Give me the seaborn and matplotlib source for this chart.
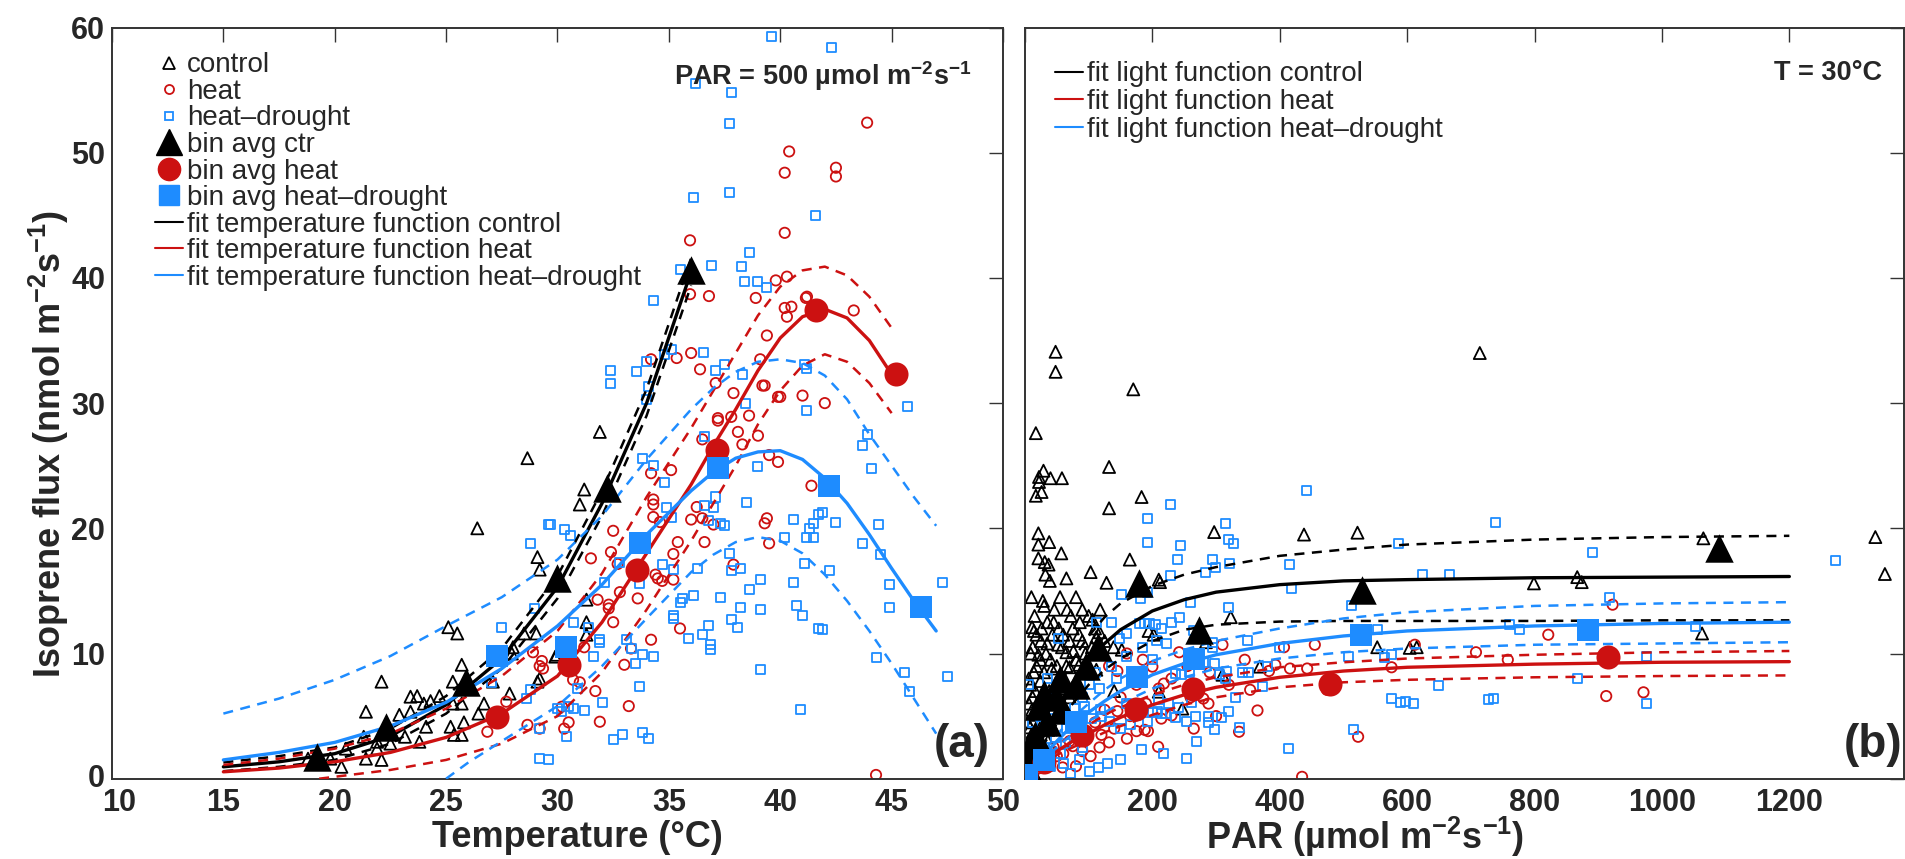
import matplotlib
matplotlib.use("Agg")
import matplotlib.pyplot as plt
import matplotlib.transforms as mtransforms
import seaborn as sns
from matplotlib.lines import Line2D

# ---------------- data: (a) temperature response, PAR = 500 ----------------
ctrl_T = [18.8, 19.4, 19.8, 20.3, 20.5, 21.3, 21.4, 21.4, 21.9, 21.9,
          22.1, 22.1, 22.5, 22.6, 22.9, 23.15, 23.4, 23.4, 23.7, 23.8,
          24.0, 24.1, 24.3, 24.7, 25.1, 25.2, 25.3, 25.3, 25.35, 25.5,
          25.7, 25.7, 25.7, 25.8, 26.4, 26.45, 26.7, 27.1, 27.85, 27.95,
          28.0, 28.5, 28.65, 29.05, 29.1, 29.1, 29.2, 29.2, 29.9, 29.97,
          31.0, 31.2, 31.3, 31.3, 31.3, 31.9]
ctrl_v = [1.6, 1.5, 1.6, 0.95, 2.4, 3.35, 5.35, 1.6, 2.95, 2.4,
          7.75, 1.5, 2.8, 3.6, 5.1, 3.35, 6.55, 5.35, 6.6, 2.95,
          6.0, 4.15, 6.2, 6.6, 12.1, 4.15, 7.75, 6.0, 3.5, 11.6,
          9.1, 3.5, 6.0, 4.5, 20.0, 5.2, 6.0, 7.75, 6.8, 10.0,
          10.5, 11.6, 25.6, 11.6, 7.75, 17.7, 16.7, 8.0, 9.75, 9.9,
          21.9, 23.1, 14.3, 12.5, 11.5, 27.7]

heat_T = [26.85, 27.7, 28.65, 28.9, 29.2, 29.3, 29.35, 29.2, 30.2, 30.3,
          30.5, 30.7, 31.0, 31.2, 31.5, 31.7, 31.8, 31.9, 32.3, 32.3,
          32.4, 32.5, 32.5, 32.7, 32.8, 33.0, 33.2, 33.3, 33.6, 34.2,
          34.2, 34.2, 34.3, 34.3, 34.3, 34.4, 34.5, 34.6, 34.7, 35.1,
          35.2, 35.2, 35.35, 35.4, 35.5, 35.95, 35.95, 36.0, 36.0, 36.25,
          36.4, 36.5, 36.5, 36.6, 36.8, 37.0, 37.1, 37.2, 37.2, 37.8,
          37.9, 37.9, 38.1, 38.3, 38.6, 38.9, 39.0, 39.1, 39.2, 39.3,
          39.3, 39.4, 39.4, 39.5, 39.5, 39.8, 39.9, 39.9, 40.0, 40.2,
          40.2, 40.2, 40.3, 40.4, 40.5, 40.3, 41.0, 41.15, 41.2, 41.4,
          42.0, 42.5, 42.5, 43.3, 43.9, 44.3]
heat_v = [3.75, 6.15, 4.3, 10.1, 9.0, 9.4, 8.8, 4.0, 5.75, 4.0,
          4.5, 7.9, 7.7, 10.5, 17.6, 7.0, 14.3, 4.55, 13.9, 13.6,
          18.1, 19.8, 12.5, 17.15, 14.9, 9.1, 5.8, 10.4, 14.4, 11.1,
          24.4, 33.5, 22.3, 21.9, 20.9, 16.3, 16.0, 20.5, 15.8, 24.65,
          17.95, 15.9, 33.6, 18.9, 12.0, 43.0, 38.7, 20.7, 34.0, 21.7,
          32.7, 20.8, 27.1, 18.9, 38.55, 20.3, 31.6, 28.6, 28.8, 28.9,
          17.1, 30.8, 27.7, 26.7, 29.0, 38.4, 27.4, 33.5, 31.4, 31.4,
          20.4, 35.4, 20.8, 25.85, 18.8, 39.8, 25.3, 30.5, 30.5, 43.6,
          48.4, 37.6, 40.1, 50.1, 37.7, 36.9, 30.6, 38.4, 38.5, 23.4,
          30.0, 48.8, 48.1, 37.4, 52.4, 0.3]

hd_T = [27.05, 27.5, 28.6, 28.8, 28.8, 28.95, 29.2, 29.2, 29.6, 29.6,
        29.7, 30.0, 30.2, 30.3, 30.4, 30.5, 30.6, 30.7, 30.7, 30.9,
        31.2, 31.4, 31.6, 31.9, 31.9, 32.0, 32.1, 32.4, 32.4, 32.5,
        32.8, 32.9, 33.1, 33.3, 33.5, 33.55, 33.7, 33.7, 33.8, 33.8,
        33.8, 34.0, 34.0, 34.1, 34.1, 34.3, 34.3, 34.3, 34.7, 34.8,
        34.8, 34.9, 35.1, 35.1, 35.2, 35.2, 35.2, 35.5, 35.5, 35.6,
        35.9, 36.1, 36.1, 36.2, 36.3, 36.5, 36.55, 36.6, 36.6, 36.8,
        36.8, 36.85, 36.85, 36.9, 37.0, 37.1, 37.1, 37.3, 37.3, 37.5,
        37.5, 37.7, 37.7, 37.7, 37.8, 37.8, 37.8, 38.1, 38.2, 38.2,
        38.25, 38.3, 38.4, 38.45, 38.5, 38.6, 38.6, 39.0, 39.0, 39.1,
        39.1, 39.1, 39.4, 39.6, 40.2, 40.6, 40.6, 40.75, 40.9, 41.0,
        41.1, 41.1, 41.2, 41.2, 41.2, 41.3, 41.5, 41.5, 41.6, 41.7,
        41.7, 41.9, 41.9, 42.2, 42.3, 42.5, 43.7, 43.7, 43.9, 44.1,
        44.4, 44.5, 44.9, 44.9, 44.3, 45.6, 45.7, 45.8, 47.3, 47.5]
hd_v = [7.7, 12.1, 6.4, 7.1, 18.8, 13.6, 4.0, 1.6, 1.5, 20.3,
        20.3, 5.6, 5.4, 19.9, 3.4, 5.8, 19.4, 12.5, 5.6, 7.2,
        5.45, 12.1, 9.75, 11.1, 10.9, 6.1, 15.7, 32.6, 31.6, 3.1,
        17.3, 3.55, 11.1, 10.4, 9.2, 32.5, 15.6, 7.35, 25.6, 9.9,
        3.7, 33.3, 30.25, 31.3, 3.2, 38.2, 25.0, 9.8, 17.1, 33.9,
        23.65, 21.7, 34.3, 20.9, 16.7, 13.0, 12.8, 40.7, 14.1, 14.4,
        11.2, 46.4, 14.6, 55.5, 16.8, 11.5, 34.05, 27.3, 21.8, 20.6,
        12.2, 10.7, 10.3, 41.0, 21.7, 22.5, 32.6, 20.4, 14.5, 20.2,
        33.1, 52.3, 46.8, 18.0, 54.8, 16.6, 12.7, 12.1, 16.8, 13.7,
        40.95, 32.3, 39.7, 30.0, 22.1, 42.0, 15.1, 39.7, 24.9, 15.9,
        13.5, 8.7, 39.25, 59.3, 19.3, 20.7, 15.65, 13.8, 5.5, 13.0,
        33.1, 17.2, 32.8, 29.4, 19.25, 20.0, 20.4, 19.3, 45.0, 21.1,
        12.0, 21.3, 11.9, 16.6, 58.4, 20.5, 26.6, 18.8, 27.5, 24.8,
        20.3, 17.9, 15.5, 13.65, 9.7, 8.5, 29.7, 6.95, 15.7, 8.2]

bin_ctr_T = [19.2, 22.3, 25.9, 30.0, 32.2, 36.0]
bin_ctr_v = [1.75, 4.15, 7.75, 16.0, 23.2, 40.6]
bin_heat_T = [27.3, 30.5, 33.55, 37.15, 41.6, 45.2]
bin_heat_v = [4.9, 9.1, 16.7, 26.25, 37.4, 32.3]
bin_hd_T = [27.3, 30.4, 33.7, 37.2, 42.2, 46.3]
bin_hd_v = [9.8, 10.5, 18.8, 24.8, 23.4, 13.7]

# fitted temperature functions
fitT_ctrl = [15, 17.5, 20, 22.5, 25, 27.5, 30, 32, 34, 36]
fit_ctrl = [0.95, 1.35, 2.0, 3.4, 5.9, 9.6, 15.3, 22.0, 30.0, 40.5]
fit_ctrl_hi = [1.3, 1.8, 2.5, 4.0, 6.6, 10.4, 16.2, 23.0, 31.1, 41.6]
fit_ctrl_lo = [0.6, 0.95, 1.5, 2.8, 5.2, 8.8, 14.4, 21.0, 29.0, 39.4]

fitT_heat = [15, 17.5, 20, 22.5, 25, 27.5, 30, 32, 34, 36, 37, 38, 39, 40, 41,
             42, 43, 44, 45]
fit_heat = [0.55, 0.85, 1.35, 2.1, 3.3, 5.2, 8.2, 12.5, 18.0, 23.5, 26.6, 29.5,
            32.6, 35.2, 36.9, 37.5, 36.8, 35.0, 32.3]
fit_heat_hi = [1.1, 1.6, 2.4, 3.6, 5.6, 8.2, 11.8, 16.4, 22.5, 28.0, 31.0, 34.0,
               37.0, 39.3, 40.6, 40.9, 40.2, 38.5, 36.0]

fitT_heat_lo = [19.3, 22.5, 25, 27.5, 30, 32, 34, 36, 37, 38, 39, 40, 41, 42,
                43, 44, 45]
fit_heat_lo = [0.0, 0.7, 1.5, 2.8, 5.0, 8.5, 13.5, 19.0, 22.0, 25.0, 28.3, 31.0,
               33.0, 33.9, 33.3, 31.6, 29.2]

fitT_hd = [15, 17.5, 20, 22.5, 25, 27.5, 30, 32, 34, 36, 37, 38, 39, 40, 41,
           42, 43, 44, 45, 46, 47]
fit_hd = [1.5, 2.1, 2.9, 4.2, 6.1, 8.8, 12.2, 15.5, 19.5, 23.0, 24.5, 25.6, 26.1,
          26.2, 25.5, 24.0, 22.0, 19.5, 16.8, 14.2, 11.8]
fit_hd_hi = [5.2, 6.4, 7.9, 9.8, 12.2, 14.5, 17.5, 21.0, 25.5, 29.5, 31.2, 32.5,
             33.3, 33.5, 33.2, 32.2, 30.3, 27.5, 25.0, 22.5, 20.2]
fitT_hd_lo = [25, 26, 27.5, 30, 32, 34, 36, 37, 38, 39, 40, 41, 42, 43, 44, 45,
              46, 47]
fit_hd_lo = [0.0, 1.3, 3.0, 5.8, 9.0, 12.8, 16.5, 17.9, 18.9, 19.3, 19.0, 18.0,
             16.3, 14.2, 11.8, 9.2, 6.4, 3.6]

# ---------------- data: (b) light response, T = 30 C ----------------
ctrl_P = [48, 48, 170, 17, 132, 29, 22, 40, 58, 22, 17, 26, 183, 132, 21, 21, 38,
          57, 297, 438, 522, 21, 31, 37, 164.5, 103, 32, 39, 128, 210, 212, 10,
          28, 30, 72, 86, 100, 106, 323, 11, 14, 52, 65, 76, 21, 194, 202, 112,
          117, 139, 152, 42, 70, 85, 100, 112, 284, 368.5, 310, 553, 615, 8, 16,
          24, 48, 57, 11, 16, 27, 42, 8, 18, 37, 247, 210, 140, 3, 8, 5, 799,
          867, 874, 1065, 1063, 604, 1335, 1350, 714, 12, 18, 25, 35, 45, 60, 55,
          65, 80, 90, 30, 50, 60, 70, 6, 14, 20, 28, 36, 45,
          4, 6, 9, 12, 15, 18, 20, 24, 26, 30, 33, 35, 38, 40, 43, 46, 50, 53,
          58, 62, 66, 70, 75, 80, 85, 90, 95, 105, 110, 118, 125, 2, 5, 10, 13,
          22, 32, 44, 55, 65]
ctrl_Pv = [34.1, 32.5, 31.1, 27.6, 24.9, 24.6, 24.1, 24.0, 24.0, 23.7, 22.6,
           22.9, 22.5, 21.6, 19.6, 18.7, 18.9, 18.0, 19.7, 19.5, 19.65, 17.6,
           17.3, 17.1, 17.5, 16.5, 16.3, 15.8, 15.65, 15.9, 15.7, 14.5, 14.2,
           13.8, 13.0, 12.5, 13.0, 12.7, 12.9, 12.1, 11.8, 10.7, 10.1, 10.2,
           9.9, 11.8, 11.5, 11.3, 11.7, 10.5, 10.3, 8.8, 8.9, 9.1, 8.8, 8.7,
           10.9, 8.95, 8.3, 10.5, 10.5, 7.5, 7.0, 7.8, 7.6, 7.2, 5.5, 5.1, 5.9,
           5.4, 4.1, 3.4, 3.9, 5.6, 6.95, 7.0, 1.5, 2.5, 3.0, 15.6, 16.1, 15.7,
           19.2, 11.6, 10.45, 19.3, 16.35, 34.0, 10.5, 9.0, 11.0, 10.8, 12.5,
           11.5, 14.5, 16.0, 14.5, 11.0, 6.5, 6.0, 5.0, 6.5, 6.0, 8.5, 2.0, 4.5,
           3.0, 4.0,
           4.5, 8.0, 10.0, 6.5, 13.0, 11.5, 5.5, 9.5, 12.0, 8.5, 10.0, 12.5, 7.0,
           9.5, 11.5, 13.5, 9.0, 12.0, 10.5, 8.0, 13.5, 11.0, 12.0, 9.5, 11.5,
           13.5, 10.0, 10.5, 12.0, 13.5, 11.0, 1.0, 2.0, 3.5, 2.5, 6.0, 4.0, 6.5,
           7.5, 9.0]

heat_P = [435, 523, 336, 365, 353.5, 474, 406.6, 455, 383, 393, 416, 443, 575.5,
          612, 310, 242, 200, 210, 218, 132, 145, 280, 288, 209, 214, 230, 188,
          193, 175, 145, 103, 80, 59, 117, 132, 96, 708, 758, 821.5, 922.5,
          912.5, 971, 20, 35, 45, 60, 70, 85, 110, 125, 150, 160, 175, 190, 10,
          28, 50, 75, 90, 120, 140, 165, 230, 255, 265, 300, 320, 345, 260, 290,
          160, 185]
heat_Pv = [0.15, 3.35, 3.75, 5.45, 7.1, 7.1, 10.5, 10.7, 8.6, 9.1, 8.8, 8.8,
           8.9, 10.7, 10.7, 10.1, 8.95, 7.2, 7.6, 9.0, 8.6, 6.4, 6.0, 2.55, 4.8,
           5.05, 3.9, 3.8, 3.8, 5.4, 1.8, 1.0, 0.9, 2.5, 2.9, 3.7, 10.1, 9.5,
           11.5, 13.9, 6.6, 6.9, 0.8, 1.5, 2.5, 2.0, 3.0, 4.0, 4.5, 5.5, 6.5,
           3.2, 7.5, 6.0, 0.3, 1.2, 1.8, 2.6, 2.2, 3.5, 4.0, 5.0, 8.0, 9.0, 4.0,
           5.0, 7.5, 9.5, 6.5, 8.5, 10.0, 9.5]

hd_P = [442, 229, 192, 315, 193, 244.5, 320, 328, 239, 294, 299, 321, 284, 416,
        418, 229, 152, 181, 192, 260, 242, 320, 513, 586, 623.5, 553, 507.5, 575,
        597.5, 610.5, 516, 414, 336, 372.5, 342, 351, 315.6, 180, 188, 196, 205,
        215, 149, 159, 52, 113, 136, 206, 222, 294, 294, 280, 297, 306, 315, 236,
        246, 259, 209, 225, 241, 262, 220, 236, 288, 309, 320, 254, 267, 288,
        297, 200, 208, 215, 183, 217, 254, 150, 130, 115, 102, 71, 150, 166, 193,
        120, 132, 105, 86, 78, 94, 119, 48, 64, 5, 36, 20, 117, 102, 144, 136,
        110, 739, 667, 891, 1273, 918, 761, 777, 1052, 565, 975, 649, 576, 590,
        728, 736, 867, 975, 10, 15, 25, 30, 40, 55, 60, 85, 90, 12, 25, 45, 65,
        35, 70, 90, 160, 175, 200, 160, 185, 230, 265, 270, 330, 350, 380, 400]
hd_Pv = [23.0, 21.9, 20.8, 20.4, 18.85, 18.6, 19.1, 18.8, 17.5, 17.5, 16.9,
         17.2, 16.5, 17.1, 15.2, 16.2, 14.7, 14.4, 14.9, 14.1, 12.9, 13.65, 13.8,
         18.8, 16.3, 11.9, 9.75, 9.9, 6.2, 6.0, 3.9, 2.4, 4.1, 7.35, 8.45, 8.45,
         8.6, 12.4, 12.4, 12.4, 12.3, 12.0, 11.2, 11.6, 11.2, 12.5, 12.5, 11.0,
         10.8, 10.5, 10.9, 9.3, 9.2, 8.3, 8.0, 8.4, 8.3, 8.5, 6.3, 6.0, 5.7, 6.1,
         5.2, 4.9, 5.0, 4.9, 5.4, 4.6, 5.0, 4.5, 3.9, 5.3, 5.4, 5.2, 2.3, 2.0,
         1.6, 1.5, 1.2, 0.9, 0.6, 0.4, 4.0, 4.3, 4.6, 5.0, 4.6, 4.8, 4.8, 5.6,
         5.8, 5.5, 3.3, 2.8, 7.5, 8.0, 3.3, 7.2, 7.5, 8.0, 9.0, 8.5, 20.5, 16.3,
         18.1, 17.4, 14.5, 12.3, 11.9, 12.15, 9.65, 9.8, 7.45, 6.4, 6.1, 6.3, 6.4,
         8.0, 6.0, 1.0, 2.0, 1.5, 2.5, 1.0, 2.0, 1.2, 1.5, 2.5, 4.5, 5.0, 5.5,
         4.0, 6.5, 7.0, 6.5, 6.0, 8.0, 9.5, 9.8, 10.5, 12.5, 11.8, 3.0, 6.5, 11.0,
         9.0, 10.5]

bin_ctr_P = [3, 10, 15, 22, 30, 35, 48, 55, 60, 80, 95, 115, 179, 273, 529, 1090]
bin_ctr_Pv = [1.0, 2.5, 3.5, 5.8, 6.8, 4.5, 6.5, 8.0, 5.5, 7.5, 9.0, 10.5, 15.6,
              11.9, 15.1, 18.4]
bin_heat_P = [2, 30, 90, 174, 263, 479, 916]
bin_heat_Pv = [0.2, 1.3, 3.5, 5.6, 7.2, 7.6, 9.7]
bin_hd_P = [3, 30, 80, 176, 265, 527, 884]
bin_hd_Pv = [0.3, 1.5, 4.5, 8.15, 9.6, 11.5, 11.9]

fitP = [0, 25, 50, 75, 100, 125, 150, 200, 250, 300, 400, 500, 600, 800, 1000, 1200]
fitP_ctrl = [0, 3.0, 5.6, 7.7, 9.4, 10.8, 11.9, 13.4, 14.3, 14.9, 15.5, 15.8,
             15.9, 16.05, 16.1, 16.15]
fitP_ctrl_hi = [0, 3.8, 7.0, 9.5, 11.4, 12.9, 14.0, 15.4, 16.3, 16.9, 17.8, 18.3,
                18.7, 19.1, 19.3, 19.4]
fitP_ctrl_lo = [0, 2.4, 4.4, 6.0, 7.5, 8.7, 9.6, 11.0, 11.9, 12.3, 12.55, 12.6,
                12.6, 12.6, 12.65, 12.65]
fitP_heat = [0, 1.2, 2.2, 3.0, 3.6, 4.3, 4.9, 5.9, 6.7, 7.3, 8.1, 8.6, 8.9, 9.15,
             9.3, 9.35]
fitP_heat_hi = [0, 1.4, 2.6, 3.6, 4.3, 5.1, 5.7, 6.7, 7.5, 8.1, 8.9, 9.3, 9.6,
                9.9, 10.1, 10.2]
fitP_heat_lo = [0, 1.0, 1.9, 2.5, 3.1, 3.7, 4.2, 5.1, 5.9, 6.5, 7.3, 7.7, 7.9,
                8.1, 8.2, 8.25]
fitP_hd = [0, 1.6, 3.0, 4.3, 5.3, 6.2, 7.0, 8.3, 9.2, 9.9, 10.8, 11.4, 11.8,
           12.2, 12.4, 12.5]
fitP_hd_hi = [0, 1.9, 3.5, 4.9, 6.0, 7.1, 8.0, 9.4, 10.3, 11.0, 12.0, 12.8, 13.3,
              13.8, 14.0, 14.1]
fitP_hd_lo = [0, 1.3, 2.5, 3.6, 4.6, 5.3, 6.0, 7.2, 8.1, 8.8, 9.6, 10.1, 10.4,
              10.7, 10.8, 10.9]

# ---------------- styling ----------------
BLACK, RED, BLUE = "#000000", "#cc1111", "#1e8cff"
DASH = (0, (4.0, 3.0))

sns.set_style("white")
plt.rcParams["font.family"] = ["Liberation Sans", "DejaVu Sans"]
plt.rcParams["font.weight"] = "bold"
plt.rcParams["mathtext.default"] = "regular"

fig = plt.figure(figsize=(19.06, 8.59), dpi=100)
W, H = 1906.0, 859.0
ax1 = fig.add_axes([112 / W, (H - 778.7) / H, 891 / W, 751.2 / H])
ax2 = fig.add_axes([1025 / W, (H - 778.7) / H, 879 / W, 751.2 / H])


def open_pts(ax, x, y, marker, color, size):
    sns.scatterplot(x=x, y=y, marker=marker, s=size, facecolor="none",
                    edgecolor=color, linewidth=1.3, ax=ax, zorder=2)


def bins(ax, x, y, marker, color, size):
    sns.scatterplot(x=x, y=y, marker=marker, s=size, color=color,
                    edgecolor=color, linewidth=0, ax=ax, zorder=5)


def curve(ax, x, y, color, dashed=False):
    sns.lineplot(x=x, y=y, color=color, linewidth=1.8 if dashed else 2.4,
                 linestyle=DASH if dashed else "-", sort=False,
                 estimator=None, ax=ax, zorder=4)


# (a)
open_pts(ax1, ctrl_T, ctrl_v, "^", BLACK, 75)
open_pts(ax1, heat_T, heat_v, "o", RED, 55)
open_pts(ax1, hd_T, hd_v, "s", BLUE, 42)
curve(ax1, fitT_ctrl, fit_ctrl, BLACK)
curve(ax1, fitT_ctrl, fit_ctrl_hi, BLACK, True)
curve(ax1, fitT_ctrl, fit_ctrl_lo, BLACK, True)
curve(ax1, fitT_heat, fit_heat, RED)
curve(ax1, fitT_heat, fit_heat_hi, RED, True)
curve(ax1, fitT_heat_lo, fit_heat_lo, RED, True)
curve(ax1, fitT_hd, fit_hd, BLUE)
curve(ax1, fitT_hd, fit_hd_hi, BLUE, True)
curve(ax1, fitT_hd_lo, fit_hd_lo, BLUE, True)
bins(ax1, bin_ctr_T, bin_ctr_v, "^", BLACK, 420)
bins(ax1, bin_heat_T, bin_heat_v, "o", RED, 300)
bins(ax1, bin_hd_T, bin_hd_v, "s", BLUE, 260)

# (b)
open_pts(ax2, ctrl_P, ctrl_Pv, "^", BLACK, 75)
open_pts(ax2, heat_P, heat_Pv, "o", RED, 55)
open_pts(ax2, hd_P, hd_Pv, "s", BLUE, 42)
curve(ax2, fitP, fitP_ctrl, BLACK)
curve(ax2, fitP, fitP_ctrl_hi, BLACK, True)
curve(ax2, fitP, fitP_ctrl_lo, BLACK, True)
curve(ax2, fitP, fitP_heat, RED)
curve(ax2, fitP, fitP_heat_hi, RED, True)
curve(ax2, fitP, fitP_heat_lo, RED, True)
curve(ax2, fitP, fitP_hd, BLUE)
curve(ax2, fitP, fitP_hd_hi, BLUE, True)
curve(ax2, fitP, fitP_hd_lo, BLUE, True)
bins(ax2, bin_ctr_P, bin_ctr_Pv, "^", BLACK, 420)
bins(ax2, bin_heat_P, bin_heat_Pv, "o", RED, 300)
bins(ax2, bin_hd_P, bin_hd_Pv, "s", BLUE, 260)

# axes cosmetics
for ax in (ax1, ax2):
    ax.set_ylim(0, 60)
    ax.set_yticks(range(0, 61, 10))
    ax.tick_params(direction="in", length=10, width=1.0, top=True, right=True,
                   labelsize=22, color="#333333")
    ax.tick_params(axis="x", pad=7)
    ax.tick_params(axis="y", pad=5)
    for sp in ax.spines.values():
        sp.set_linewidth(1.4)
        sp.set_color("#333333")
    ax.set_xlabel("")
    ax.set_ylabel("")

ax1.set_xlim(10, 50)
ax1.set_xticks(range(10, 51, 5))
ax2.set_xlim(0, 1380)
ax2.set_xticks(range(0, 1201, 200))
ax2.set_xticklabels([""] + [str(v) for v in range(200, 1201, 200)])
ax2.tick_params(labelleft=False)

# nudge the corner labels apart a little, as in the reference
first = ax1.xaxis.get_major_ticks()[0].label1
first.set_transform(first.get_transform() +
                    mtransforms.ScaledTranslation(7 / 100, 0, fig.dpi_scale_trans))
zero = ax1.yaxis.get_major_ticks()[0].label1
zero.set_transform(zero.get_transform() +
                   mtransforms.ScaledTranslation(0, 3 / 100, fig.dpi_scale_trans))

ax1.set_xlabel("Temperature (°C)", fontsize=26, fontweight="bold")
ax1.xaxis.set_label_coords(0.522, -0.078)
ax1.xaxis.label.set_verticalalignment("center")
ax2.set_xlabel("PAR (µmol m$^{-2}$s$^{-1}$)", fontsize=26, fontweight="bold")
ax2.xaxis.set_label_coords(0.387, -0.078)
ax2.xaxis.label.set_verticalalignment("center")
ax1.set_ylabel("Isoprene flux (nmol m$^{-2}$s$^{-1}$)", fontsize=26,
               fontweight="bold")
ax1.yaxis.set_label_coords(-0.071, 0.446)
ax1.yaxis.label.set_verticalalignment("center")

ax1.text(0.965, 0.935, "PAR = 500 µmol m$^{-2}$s$^{-1}$", transform=ax1.transAxes,
         ha="right", va="center", fontsize=19.5, fontweight="bold")
ax2.text(0.975, 0.94, "T = 30°C", transform=ax2.transAxes, ha="right",
         va="center", fontsize=19.5, fontweight="bold")
ax1.text(0.985, 0.045, "(a)", transform=ax1.transAxes, ha="right", va="center",
         fontsize=33, fontweight="bold")
ax2.text(0.998, 0.045, "(b)", transform=ax2.transAxes, ha="right", va="center",
         fontsize=33, fontweight="bold")

# legends
leg_a_labels = ["control", "heat", "heat\u2013drought", "bin avg ctr",
                "bin avg heat", "bin avg heat\u2013drought",
                "fit temperature function control",
                "fit temperature function heat",
                "fit temperature function heat\u2013drought"]
h_a = [
    Line2D([], [], ls="none", marker="^", ms=8, mfc="none", mec=BLACK, mew=1.3),
    Line2D([], [], ls="none", marker="o", ms=6.5, mfc="none", mec=RED, mew=1.3),
    Line2D([], [], ls="none", marker="s", ms=6, mfc="none", mec=BLUE, mew=1.3),
    Line2D([], [], ls="none", marker="^", ms=19, color=BLACK),
    Line2D([], [], ls="none", marker="o", ms=16, color=RED),
    Line2D([], [], ls="none", marker="s", ms=14, color=BLUE),
    Line2D([], [], color=BLACK, lw=1.5),
    Line2D([], [], color=RED, lw=1.5),
    Line2D([], [], color=BLUE, lw=1.5),
]
ax1.legend(h_a, leg_a_labels, loc="upper left", bbox_to_anchor=(0.048, 0.967),
           frameon=False, prop={"size": 20, "weight": "normal"},
           handlelength=1.0, handletextpad=0.15, labelspacing=0.02,
           borderpad=0, borderaxespad=0)

leg_b_labels = ["fit light function control", "fit light function heat",
                "fit light function heat\u2013drought"]
h_b = [Line2D([], [], color=c, lw=1.5) for c in (BLACK, RED, BLUE)]
ax2.legend(h_b, leg_b_labels, loc="upper left", bbox_to_anchor=(0.034, 0.955),
           frameon=False, prop={"size": 20, "weight": "normal"},
           handlelength=1.0, handletextpad=0.15, labelspacing=0.06,
           borderpad=0, borderaxespad=0)

fig.savefig("out.png", dpi=100)
